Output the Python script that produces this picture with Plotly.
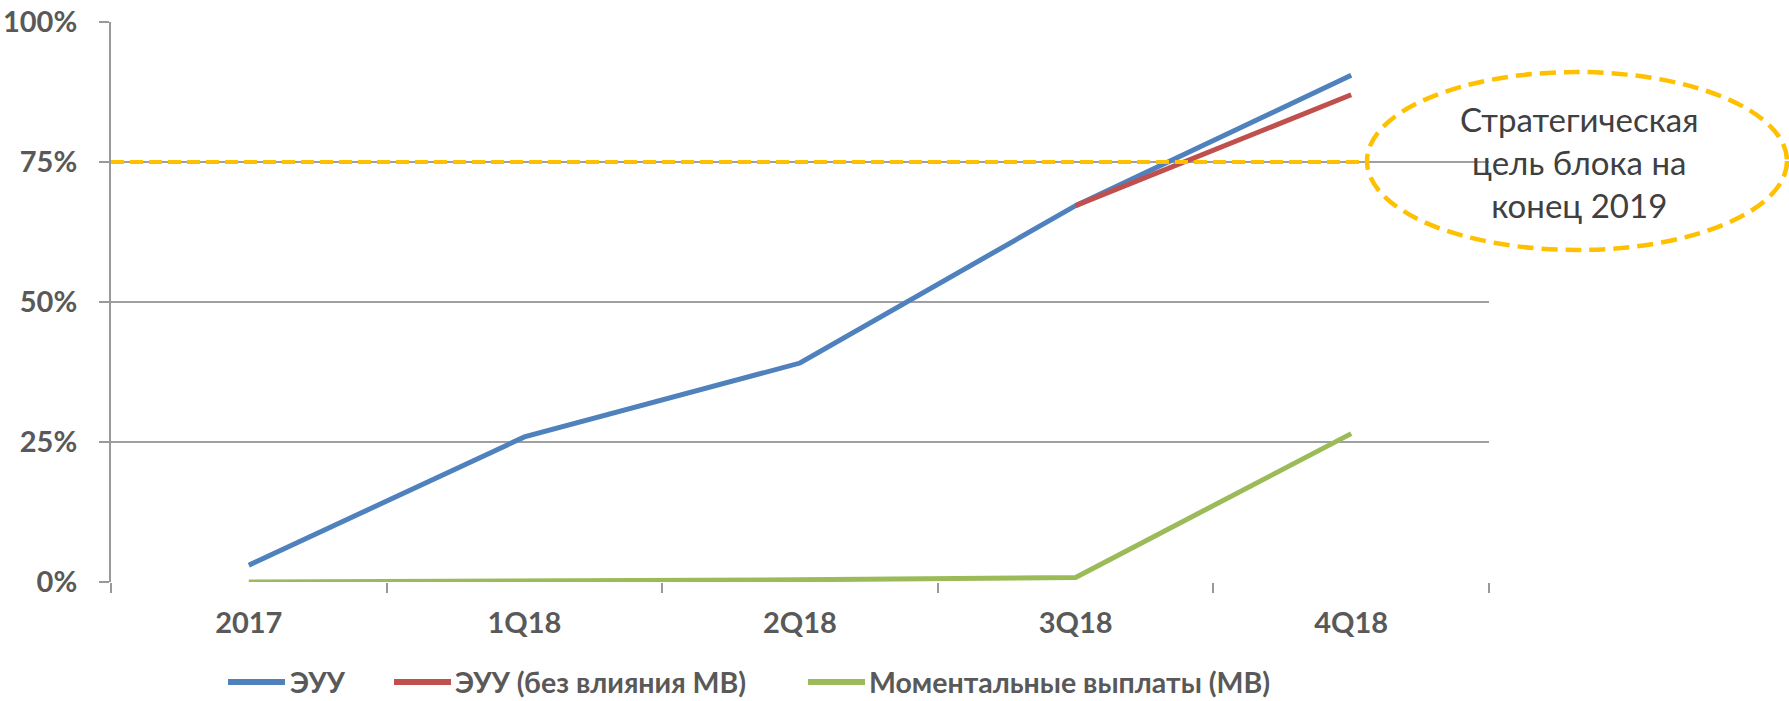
import plotly.graph_objects as go

categories = ["2017", "1Q18", "2Q18", "3Q18", "4Q18"]
euu = [0.030, 0.259, 0.391, 0.672, 0.905]
euu_no_mv = [None, None, None, 0.672, 0.870]
mv = [0.0, 0.001, 0.004, 0.008, 0.265]
target = 0.75
y_ticks = [0, 0.25, 0.5, 0.75, 1.0]
y_tick_text = ["0%", "25%", "50%", "75%", "100%"]
target_text = "Стратегическая<br>цель блока на<br>конец 2019"
names = ["ЭУУ", "ЭУУ (без влияния МВ)", "Моментальные выплаты (МВ)"]
colors = ["#4F81BD", "#C0504D", "#9BBB59"]

FONT = "Lato"
GRAY = "#595959"
W, H = 1789, 701
L, R, T, B = 111, 300, 22, 119


def px_x(px):
    return (px - L) / (W - L - R)


def px_y(py):
    return (H - B - py) / (H - T - B)


fig = go.Figure()
for vals, nm, col in zip([euu, euu_no_mv, mv], names, colors):
    fig.add_trace(go.Scatter(x=categories, y=vals, mode="lines", name=nm,
                             line=dict(color=col, width=5), showlegend=False))

# target dashed line
fig.add_shape(type="line", xref="paper", yref="y", x0=0, x1=px_x(1367), y0=target, y1=target,
              line=dict(color="#FFC000", width=4, dash="13px,6px"), layer="above")
# ellipse
fig.add_shape(type="circle", xref="paper", yref="paper", x0=px_x(1367), x1=px_x(1787),
              y0=px_y(250), y1=px_y(72),
              line=dict(color="#FFC000", width=4.5, dash="16px,8px"), fillcolor="rgba(0,0,0,0)")
fig.add_annotation(xref="paper", yref="paper", x=px_x(1579), y=px_y(162), text=target_text,
                   showarrow=False, xanchor="center", yanchor="middle",
                   font=dict(family=FONT, size=33, color="#404040"), align="center")

# manual legend
leg_line = [(228, 285), (394, 451), (808, 865)]
leg_text_x = [288, 453, 867]
leg_y = 682
for (a, b), tx, nm, col in zip(leg_line, leg_text_x, names, colors):
    fig.add_shape(type="line", xref="paper", yref="paper", x0=px_x(a), x1=px_x(b),
                  y0=px_y(leg_y), y1=px_y(leg_y), line=dict(color=col, width=6))
    fig.add_annotation(xref="paper", yref="paper", x=px_x(tx), y=px_y(leg_y), text=nm,
                       showarrow=False, xanchor="left", yanchor="middle",
                       font=dict(family=FONT, size=28.5, color=GRAY, weight="bold"))

fig.update_layout(
    width=W, height=H,
    margin=dict(l=L, r=R, t=T, b=B),
    plot_bgcolor="white", paper_bgcolor="white",
    showlegend=False,
    font=dict(family=FONT),
)
fig.update_xaxes(type="category", range=[-0.5, 4.5], showgrid=False, automargin=False,
                 ticks="outside", tickson="boundaries", ticklen=10, tickwidth=2, tickcolor="#999999",
                 showline=False, zeroline=False, ticklabelstandoff=21,
                 tickfont=dict(family=FONT, size=29, color=GRAY, weight="bold"))
fig.update_yaxes(range=[0, 1.0], tickvals=y_ticks, ticktext=y_tick_text, automargin=False,
                 showgrid=True, gridcolor="#A0A0A0", gridwidth=2,
                 ticks="outside", ticklen=10, tickwidth=2, tickcolor="#999999",
                 showline=True, linecolor="#999999", linewidth=2, zeroline=False,
                 ticklabelstandoff=16,
                 tickfont=dict(family=FONT, size=29, color=GRAY, weight="bold"))

fig.write_html("out.html", config={"displayModeBar": False},
               post_script="document.body.style.margin='0';document.body.style.overflow='hidden';")
